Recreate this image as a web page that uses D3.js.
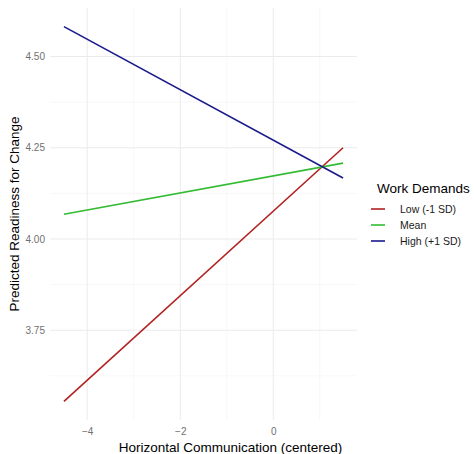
<!DOCTYPE html>
<html>
<head>
<meta charset="utf-8">
<script src="https://cdn.jsdelivr.net/npm/d3@7"></script>
<style>
  body { margin: 0; background: #fff; }
  text { font-family: "Liberation Sans", Arial, sans-serif; }
</style>
</head>
<body>
<div id="chart"></div>
<script>
// Simple slopes: predicted readiness at the two ends of the x range
var groups = ["Low (-1 SD)", "Mean", "High (+1 SD)"];
var colors = ["#b22222", "#33bb33", "#1a1a8c"];
var xEnds = [-4.5, 1.5];
var lowVals = [3.555, 4.25];
var meanVals = [4.068, 4.208];
var highVals = [4.582, 4.167];
var xTicks = [-4, -2, 0];
var yTicks = [3.75, 4.00, 4.25, 4.50];

var width = 474, height = 454;
var margin = { top: 8, right: 117, bottom: 34, left: 50 };

var svg = d3.select("#chart")
  .append("svg")
  .attr("width", width)
  .attr("height", height);

var x = d3.scaleLinear()
  .domain([-4.8, 1.8])
  .range([margin.left, width - margin.right]);

var y = d3.scaleLinear()
  .domain([3.504, 4.633])
  .range([height - margin.bottom, margin.top]);

// grid: minor then major
var grid = svg.append("g");
var xMinor = [-3, -1, 1];
var yMinor = [3.625, 3.875, 4.125, 4.375];
grid.selectAll(".xmin").data(xMinor).enter().append("line")
  .attr("x1", d => x(d)).attr("x2", d => x(d))
  .attr("y1", y.range()[0]).attr("y2", y.range()[1])
  .attr("stroke", "#f2f2f2").attr("stroke-width", 0.6);
grid.selectAll(".ymin").data(yMinor).enter().append("line")
  .attr("y1", d => y(d)).attr("y2", d => y(d))
  .attr("x1", x.range()[0]).attr("x2", x.range()[1])
  .attr("stroke", "#f2f2f2").attr("stroke-width", 0.6);
grid.selectAll(".xmaj").data(xTicks).enter().append("line")
  .attr("x1", d => x(d)).attr("x2", d => x(d))
  .attr("y1", y.range()[0]).attr("y2", y.range()[1])
  .attr("stroke", "#ebebeb").attr("stroke-width", 1);
grid.selectAll(".ymaj").data(yTicks).enter().append("line")
  .attr("y1", d => y(d)).attr("y2", d => y(d))
  .attr("x1", x.range()[0]).attr("x2", x.range()[1])
  .attr("stroke", "#ebebeb").attr("stroke-width", 1);

// axes (ticks only, no domain)
var xAxis = svg.append("g")
  .attr("transform", "translate(0," + (height - margin.bottom) + ")")
  .call(d3.axisBottom(x).tickValues(xTicks).tickSize(0).tickPadding(8).tickFormat(d3.format("d")));
var yAxis = svg.append("g")
  .attr("transform", "translate(" + margin.left + ",0)")
  .call(d3.axisLeft(y).tickValues(yTicks).tickSize(0).tickPadding(5).tickFormat(d3.format(".2f")));
[xAxis, yAxis].forEach(function (a) {
  a.select(".domain").remove();
  a.selectAll("text").attr("fill", "#707070").style("font-size", "10px")
    .style("font-family", "'Liberation Sans', Arial, sans-serif");
});

// lines
var series = [lowVals, meanVals, highVals];
var line = d3.line().x(d => x(d[0])).y(d => y(d[1]));
series.forEach(function (vals, i) {
  svg.append("path")
    .datum(xEnds.map((xv, j) => [xv, vals[j]]))
    .attr("fill", "none")
    .attr("stroke", colors[i])
    .attr("stroke-width", 1.6)
    .attr("d", line);
});

// axis titles
svg.append("text")
  .attr("x", (x.range()[0] + x.range()[1]) / 2 + 27)
  .attr("y", height - 2)
  .attr("text-anchor", "middle")
  .style("font-size", "13.5px")
  .text("Horizontal Communication (centered)");

svg.append("text")
  .attr("transform", "translate(19," + ((y.range()[0] + y.range()[1]) / 2) + ")rotate(-90)")
  .attr("text-anchor", "middle")
  .style("font-size", "13.5px")
  .text("Predicted Readiness for Change");

// legend
var legend = svg.append("g").attr("transform", "translate(377,193)");
legend.append("text")
  .attr("x", 0).attr("y", 0)
  .style("font-size", "13.5px")
  .text("Work Demands");
groups.forEach(function (g, i) {
  var yy = 16 + i * 16;
  legend.append("line")
    .attr("x1", -6).attr("x2", 8)
    .attr("y1", yy).attr("y2", yy)
    .attr("stroke", colors[i]).attr("stroke-width", 1.6);
  legend.append("text")
    .attr("x", 23).attr("y", yy + 4)
    .style("font-size", "10.5px")
    .attr("fill", "#1a1a1a")
    .text(g);
});
</script>
</body>
</html>
